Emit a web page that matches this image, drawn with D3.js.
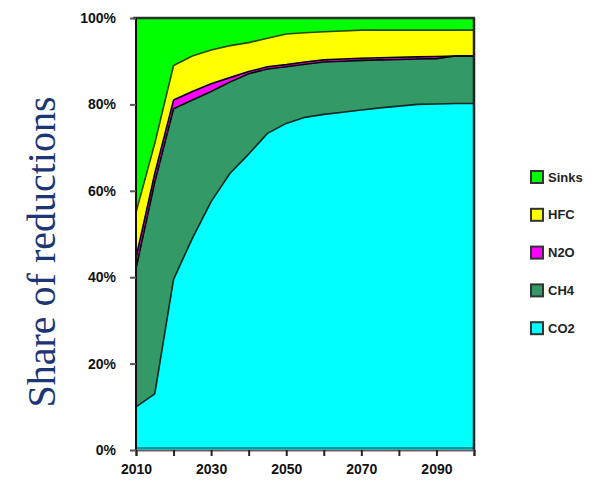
<!DOCTYPE html>
<html><head><meta charset="utf-8">
<script src="https://cdn.jsdelivr.net/npm/d3@7"></script>
<style>body{margin:0;background:#fff}svg{display:block}</style>
</head><body>
<script>
const years = [2010,2015,2020,2025,2030,2035,2040,2045,2050,2055,2060,2065,2070,2075,2080,2085,2090,2095,2100];
const co2   = [10,13,39.5,49,57.5,64,68.5,73.3,75.6,77,77.7,78.2,78.7,79.2,79.6,80,80.1,80.2,80.2];
const ch4   = [32,49,39.5,32,25.5,21.2,18.6,14.9,13.1,12.3,12.1,11.8,11.5,11.1,10.8,10.5,10.5,11,11];
const n2o   = [2.5,2,2,2,1.8,1,0.5,0.5,0.5,0.5,0.5,0.5,0.5,0.5,0.5,0.5,0.5,0,0];
const hfc   = [10.5,7,8,8.2,7.8,7.4,6.7,6.6,7.1,6.8,6.5,6.5,6.5,6.4,6.3,6.2,6.1,6,6];
const sinks = [45,29,11,8.8,7.4,6.4,5.7,4.7,3.7,3.4,3.2,3,2.8,2.8,2.8,2.8,2.8,2.8,2.8];
const seriesNames = ["CO2","CH4","N2O","HFC","Sinks"];
const seriesColors = ["#00ffff","#339966","#ff00ff","#ffff00","#00ff00"];
const xTickValues = [2010,2020,2030,2040,2050,2060,2070,2080,2090,2100];
const xTickLabels = [2010,2030,2050,2070,2090];
const yTickValues = [0,20,40,60,80,100];
const yTitle = "Share of reductions";

const table = years.map((yr,i)=>({year:yr,CO2:co2[i],CH4:ch4[i],N2O:n2o[i],HFC:hfc[i],Sinks:sinks[i]}));

const W=616,H=504;
const svg=d3.select("body").append("svg").attr("width",W).attr("height",H);
const x=d3.scaleLinear().domain([2010,2100]).range([136,474]);
const y=d3.scaleLinear().domain([0,100]).range([450,18]);

const stacked=d3.stack().keys(seriesNames)(table);
const area=d3.area().x(d=>x(d.data.year)).y0(d=>y(d[0])).y1(d=>y(d[1]));
const line=d3.line().x(d=>x(d.data.year)).y(d=>y(d[1]));

svg.append("g").selectAll("path").data(stacked).join("path")
  .attr("d",area).attr("fill",(d,i)=>seriesColors[i]).attr("stroke",(d,i)=>seriesColors[i]).attr("stroke-width",0.5);
const lineColors=["#0a2a20","#000","#000","#2f4a00"];
svg.append("g").selectAll("path").data(stacked.slice(0,4)).join("path")
  .attr("d",line).attr("fill","none").attr("stroke",(d,i)=>lineColors[i]).attr("stroke-width",1.6).attr("stroke-linejoin","round");

// frame
svg.append("line").attr("x1",x(2010)).attr("x2",x(2100)).attr("y1",y(0)-2).attr("y2",y(0)-2).attr("stroke","#009b9b").attr("stroke-width",2);
svg.append("line").attr("x1",133).attr("x2",475).attr("y1",y(100)).attr("y2",y(100)).attr("stroke","#2b332b").attr("stroke-width",2.5);
svg.append("line").attr("x1",x(2100)).attr("x2",x(2100)).attr("y1",y(100)).attr("y2",y(0)).attr("stroke","#222").attr("stroke-width",2.5);
svg.append("line").attr("x1",x(2010)).attr("x2",x(2010)).attr("y1",y(100)).attr("y2",y(0)).attr("stroke","#111").attr("stroke-width",2);

// x axis
const xAxis=d3.axisBottom(x).tickValues(xTickValues).tickSize(6).tickPadding(8)
  .tickFormat(d=>xTickLabels.includes(d)?String(d):"");
const gx=svg.append("g").attr("transform",`translate(0,${y(0)})`).call(xAxis);
gx.select(".domain").attr("stroke","#6e5f5f").attr("stroke-width",2);
gx.selectAll(".tick line").attr("stroke","#222").attr("stroke-width",2);
gx.selectAll("text").attr("font-family","Liberation Sans, Arial, sans-serif").attr("font-weight","bold")
  .attr("font-size",14).attr("fill","#111");

// y axis
const yAxis=d3.axisLeft(y).tickValues(yTickValues).tickSize(6).tickPadding(14).tickFormat(d=>d+"%");
const gy=svg.append("g").attr("transform",`translate(${x(2010)},0)`).call(yAxis);
gy.select(".domain").remove();
gy.selectAll(".tick line").attr("stroke","#555").attr("stroke-width",2);
gy.selectAll("text").attr("font-family","Liberation Sans, Arial, sans-serif").attr("font-weight","bold")
  .attr("font-size",14).attr("fill","#111");

// y title
svg.append("text").attr("transform","translate(55,252) rotate(-90)").attr("text-anchor","middle")
  .attr("font-family","Liberation Serif, Times New Roman, serif").attr("font-size",40).attr("fill","#1c3574").text(yTitle);

// legend
const legendOrder=[4,3,2,1,0];
const lg=svg.append("g");
legendOrder.forEach((si,k)=>{
  const cy=177+k*37.8;
  lg.append("rect").attr("x",531).attr("y",cy-6).attr("width",12).attr("height",12)
    .attr("fill",seriesColors[si]).attr("stroke","#333").attr("stroke-width",2);
  lg.append("text").attr("x",548).attr("y",cy).attr("dy","0.36em")
    .attr("font-family","Liberation Sans, Arial, sans-serif").attr("font-weight","bold").attr("font-size",13).attr("fill","#222")
    .text(seriesNames[si]);
});
</script>
</body></html>
